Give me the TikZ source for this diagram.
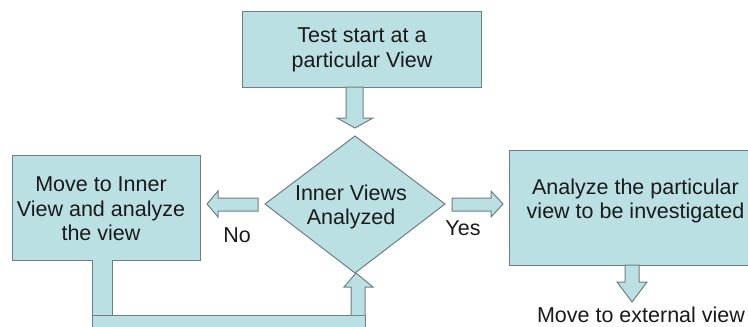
\documentclass[tikz,border=0pt]{standalone}
\usepackage{fontspec}
\setmainfont{Liberation Sans}
\definecolor{boxfill}{HTML}{BBE0E3}
\definecolor{boxline}{HTML}{6F7F80}
\definecolor{inktext}{HTML}{1A1A1A}
\tikzset{
  blockfill/.style={fill=boxfill, draw=boxline, line width=1pt, line join=miter},
  txt/.style={text=inktext, align=center, font=\fontsize{21.5}{24.5}\selectfont, inner sep=0pt}
}
\begin{document}
\begin{tikzpicture}[x=1pt,y=-1pt]
\useasboundingbox (0,0) rectangle (748,327);
\clip (0,0) rectangle (748,327);

% process boxes and decision
\draw[blockfill] (242,11) rectangle (481,87);
\node[txt] (start) at (362,50) {Test start at a\\particular View};

\draw[blockfill] (12,155) rectangle (200,260);
\node[txt] (inner) at (101,209) {Move to Inner\\View and analyze\\the view};

\draw[blockfill] (509,150) rectangle (760,265);
\node[txt] (analyze) at (635.5,201) {Analyze the particular\\view to be investigated};

\draw[blockfill] (265,204) -- (355,136) -- (445,204) -- (355,273) -- cycle;
\node[txt] (decide) at (351,207) {Inner Views\\Analyzed};

% block arrows
\draw[blockfill] (346,87) -- (363,87) -- (363,118) -- (373,118) -- (355,128) -- (337,118) -- (346,118) -- cycle;
\draw[blockfill] (258,198) -- (218,198) -- (218,191) -- (207,204) -- (218,217) -- (218,211) -- (258,211) -- cycle;
\draw[blockfill] (452,198) -- (491,198) -- (491,191) -- (503,204) -- (491,217) -- (491,211) -- (452,211) -- cycle;
\draw[blockfill] (625,265) -- (639,265) -- (639,282) -- (647,282) -- (632,302) -- (617,282) -- (625,282) -- cycle;

% feedback loop back to the decision
\draw[blockfill] (92,315) rectangle (365,340);
\draw[blockfill] (92,260) -- (92,315) -- (112,315) -- (112,260);
\draw[blockfill] (351,315) -- (351,287) -- (344,287) -- (356,273) -- (373,287) -- (365,287) -- (365,315);

% labels
\node[txt, anchor=base] (no) at (237,242) {No};
\node[txt, anchor=base] (yes) at (463,235) {Yes};
\node[txt, anchor=base] (external) at (641,322) {Move to external view};
\end{tikzpicture}
\end{document}
